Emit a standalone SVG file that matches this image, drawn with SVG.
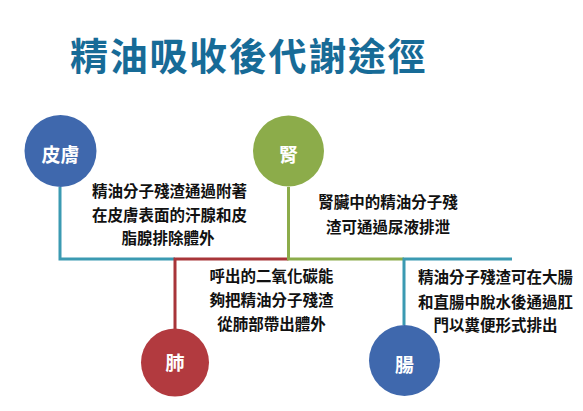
<svg xmlns="http://www.w3.org/2000/svg" width="583" height="411" viewBox="0 0 583 411">
  <style>
    text { font-family: "Liberation Sans", "Noto Sans CJK TC", sans-serif; font-weight: bold; }
    .title { font-size: 38px; fill: #176b97; letter-spacing: 1.7px; }
    .body { font-size: 15.5px; fill: #111111; text-anchor: middle; }
    .label { font-size: 19px; fill: #ffffff; text-anchor: middle; }
    .conn { fill: none; stroke-width: 3; stroke-linejoin: miter; }
  </style>
  <rect width="583" height="411" fill="#ffffff"/>
  <text class="title" x="70" y="69.5">精油吸收後代謝途徑</text>

  <g id="connectors">
    <path class="conn" d="M60,187 V259 H175" stroke="#3b9ab2"/>
    <path class="conn" d="M175,329 V259 H288.5" stroke="#a83539"/>
    <path class="conn" d="M288.5,187 V259 H404" stroke="#8cac4a"/>
    <path class="conn" d="M404,325 V259 H512" stroke="#3b9ab2"/>
  </g>

  <g id="skin">
    <circle cx="60.5" cy="151" r="36" fill="#3f68ad"/>
    <text class="label" x="60.5" y="162">皮膚</text>
    <text class="body" x="169.5" y="196.5">精油分子殘渣通過附著</text>
    <text class="body" x="169.5" y="221">在皮膚表面的汗腺和皮</text>
    <text class="body" x="168" y="243.5">脂腺排除體外</text>
  </g>

  <g id="kidney">
    <circle cx="288.5" cy="151" r="35.5" fill="#8cac4a"/>
    <text class="label" x="288.5" y="162">腎</text>
    <text class="body" x="388" y="208">腎臟中的精油分子殘</text>
    <text class="body" x="388" y="233">渣可通過尿液排泄</text>
  </g>

  <g id="lung">
    <circle cx="175" cy="362.5" r="34" fill="#b23a3f"/>
    <text class="label" x="175" y="370">肺</text>
    <text class="body" x="271.5" y="282">呼出的二氧化碳能</text>
    <text class="body" x="271.5" y="306">夠把精油分子殘渣</text>
    <text class="body" x="271.5" y="330">從肺部帶出體外</text>
  </g>

  <g id="intestine">
    <circle cx="404.5" cy="360.5" r="35.5" fill="#3f68ad"/>
    <text class="label" x="404.5" y="372">腸</text>
    <text class="body" x="495.5" y="283">精油分子殘渣可在大腸</text>
    <text class="body" x="495.5" y="308">和直腸中脫水後通過肛</text>
    <text class="body" x="495.5" y="331">門以糞便形式排出</text>
  </g>
</svg>
